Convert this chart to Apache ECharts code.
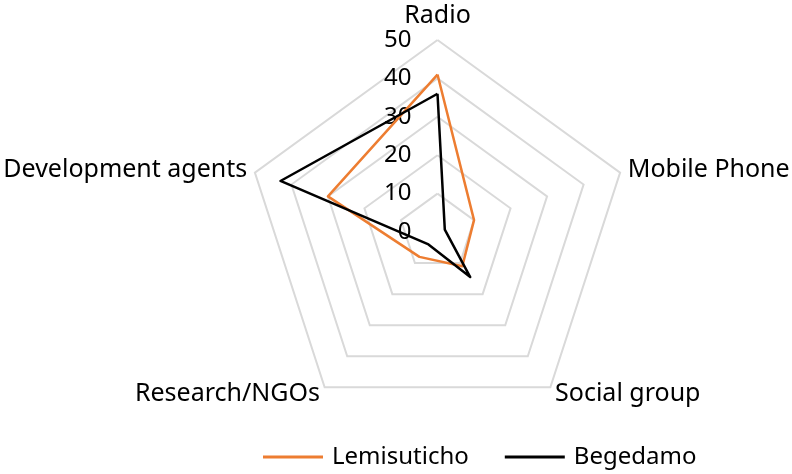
<!DOCTYPE html>
<html>
<head>
<meta charset="utf-8">
<script src="https://cdn.jsdelivr.net/npm/echarts@6/dist/echarts.min.js"></script>
<style>
  html, body { margin: 0; padding: 0; background: #fff; }
  #chart { width: 792px; height: 474px; }
</style>
</head>
<body>
<div id="chart"></div>
<script>
// data in clockwise order, starting at the top
const indicators = ['Radio', 'Mobile Phone', 'Social group', 'Research/NGOs', 'Development agents'];
const lemisuticho = [41, 10, 11, 8, 30];
const begedamo = [36, 2, 14.5, 4, 43];
const axisMax = 50;

const font = 'Noto Sans';

// echarts radar runs counter-clockwise, so keep the first item and flip the rest
const flip = (arr) => [arr[0]].concat(arr.slice(1).reverse());

const chart = echarts.init(document.getElementById('chart'));

const option = {
  animation: false,
  legend: {
    top: 440,
    left: 258,
    itemWidth: 60,
    itemHeight: 3,
    itemGap: 36,
    icon: 'rect',
    textStyle: { fontFamily: font, fontSize: 24, color: '#000', padding: [0, 0, 0, 4] },
    data: ['Lemisuticho', 'Begedamo'],
  },
  radar: {
    center: [437.5, 232],
    radius: 192,
    startAngle: 90,
    splitNumber: 5,
    shape: 'polygon',
    axisName: {
      color: '#000',
      fontFamily: font,
      fontSize: 25,
    },
    nameGap: 8,
    axisLine: { show: false },
    axisTick: { show: false },
    splitArea: { show: false },
    splitLine: { lineStyle: { color: '#d9d9d9', width: 2 } },
    axisLabel: { show: false },
    indicator: flip(indicators).map((name, i) => {
      const item = { name: name, min: 0, max: axisMax };
      if (i === 0) {
        item.axisLabel = {
          show: true,
          color: '#000',
          fontFamily: font,
          fontSize: 24,
          margin: 26,
          align: 'right',
          verticalAlign: 'middle',
          showMinLabel: true,
        };
      }
      return item;
    }),
  },
  series: [
    {
      type: 'radar',
      symbol: 'none',
      data: [
        {
          name: 'Lemisuticho',
          value: flip(lemisuticho),
          lineStyle: { color: '#ED7D31', width: 2.5 },
          itemStyle: { color: '#ED7D31' },
        },
        {
          name: 'Begedamo',
          value: flip(begedamo),
          lineStyle: { color: '#000000', width: 2.5 },
          itemStyle: { color: '#000000' },
        },
      ],
    },
  ],
};

chart.setOption(option, true);
</script>
</body>
</html>
